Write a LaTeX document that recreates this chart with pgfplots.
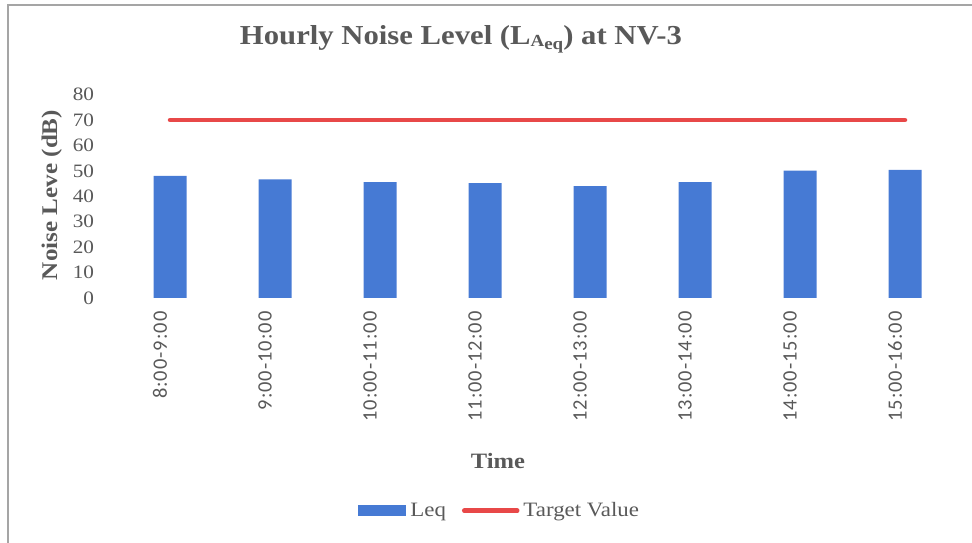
\documentclass[border=0pt]{standalone}
\usepackage{pgfplots}
\pgfplotsset{compat=1.18}
\usepackage{fontspec}
\setmainfont{Liberation Serif}[FakeStretch=1.12]
\newfontfamily\tickfont{Carlito}[LetterSpace=5]
\definecolor{txt}{RGB}{89,89,89}
\definecolor{barblue}{RGB}{70,122,212}
\definecolor{tgtred}{RGB}{232,72,72}
\definecolor{frame}{RGB}{165,165,165}
\begin{document}
\begin{tikzpicture}[x=1bp,y=1bp]
\path[use as bounding box] (0,0) rectangle (972,543);
\draw[frame, line width=1.8bp] (8,0) -- (8,538) -- (972,538);
\begin{axis}[
  at={(117.5bp,245bp)}, anchor=south west,
  scale only axis, width=840bp, height=203.4bp,
  xmin=-0.5, xmax=7.5, ymin=0, ymax=80,
  axis line style={draw=none},
  ytick={0,10,...,80},
  xtick={0,...,7},
  xticklabels={8:00-9:00,9:00-10:00,10:00-11:00,11:00-12:00,12:00-13:00,13:00-14:00,14:00-15:00,15:00-16:00},
  major tick length=0pt, tick style={draw=none},
  ticklabel style={text=txt},
  yticklabel style={font=\fontsize{19}{19}\selectfont, anchor=east, xshift=-20bp},
  xticklabel style={font=\tickfont\fontsize{20.5}{20.5}\selectfont, xshift=-10bp, yshift=-10bp, rotate=90, anchor=east},
  /pgf/number format/assume math mode=true,
  clip=false,
  legend columns=2,
  legend style={draw=none, fill=none, at={(axis description cs:0.455,-1.045)}, anchor=center,
    font=\fontsize{20.5}{21}\selectfont, text=txt,
    /tikz/every even column/.append style={column sep=14bp},
    /tikz/every odd column/.append style={column sep=2bp}},
]
\addplot[ybar, bar width=33bp, fill=barblue, draw=none,
  legend image code/.code={\fill[barblue] (0bp,-5.5bp) rectangle (48bp,5.5bp);}]
  coordinates {(0,48.0) (1,46.7) (2,45.6) (3,45.2) (4,44.0) (5,45.6) (6,50.1) (7,50.4)};
\addlegendentry{Leq}
\addplot[tgtred, line width=4.5bp, line cap=round, no marks,
  legend image code/.code={\draw[tgtred, line width=4.5bp, line cap=round] (0bp,0bp) -- (53bp,0bp);}]
  coordinates {(0,70) (1,70) (2,70) (3,70) (4,70) (5,70) (6,70) (7,70)};
\addlegendentry{Target Value}
\end{axis}
\node[anchor=base, text=txt, font=\bfseries\fontsize{27.5}{28}\selectfont] at (461,498) {Hourly Noise Level (L{\fontsize{17}{17}\selectfont\raisebox{-1.5bp}{A}\raisebox{-5bp}{eq}})\ at NV-3};
\node[rotate=90, anchor=base, text=txt, font=\bfseries\fontsize{22.5}{23}\selectfont] at (57,348) {Noise Leve (dB)};
\node[anchor=base, text=txt, font=\bfseries\fontsize{22}{22}\selectfont] at (498,74) {Time};
\end{tikzpicture}
\end{document}
